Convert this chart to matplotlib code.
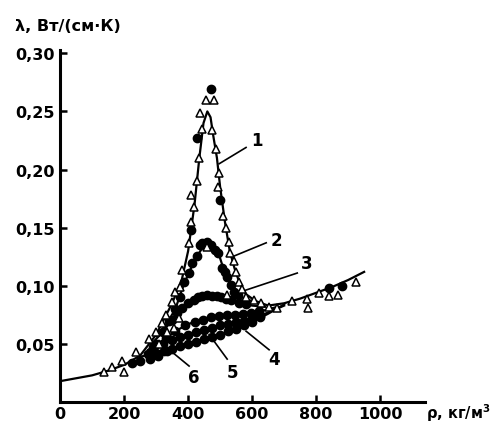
import matplotlib.pyplot as plt

# кривая 1 (линия)
c1_rho = [0, 100, 150, 200, 250, 300, 350, 380, 400, 420, 435, 448, 460, 470, 478,
          490, 500, 515, 530, 545, 560, 580, 610, 650, 700, 750, 800, 850, 900, 950]
c1_lam = [0.018, 0.023, 0.027, 0.032, 0.040, 0.058, 0.085, 0.105, 0.130, 0.170, 0.210, 0.240, 0.250, 0.245, 0.230,
          0.210, 0.185, 0.155, 0.130, 0.115, 0.103, 0.093, 0.087, 0.083, 0.085, 0.089, 0.094, 0.099, 0.105, 0.112]

c2_rho = [300, 330, 360, 385, 405, 425, 445, 470, 495, 510, 525, 545, 575, 610]
c2_lam = [0.057, 0.066, 0.080, 0.100, 0.113, 0.124, 0.133, 0.135, 0.128, 0.115, 0.106, 0.095, 0.089, 0.086]

c3_rho = [285, 320, 350, 366, 381, 419, 444, 475, 503, 534, 559, 600, 640]
c3_lam = [0.050, 0.060, 0.071, 0.077, 0.081, 0.088, 0.091, 0.091, 0.090, 0.088, 0.085, 0.083, 0.082]

c4_rho = [275, 320, 360, 400, 440, 480, 520, 560, 600, 640, 680]
c4_lam = [0.045, 0.053, 0.061, 0.067, 0.071, 0.074, 0.075, 0.076, 0.077, 0.079, 0.082]

c5_rho = [265, 310, 350, 400, 450, 500, 550, 600, 650, 700]
c5_lam = [0.042, 0.048, 0.053, 0.058, 0.062, 0.066, 0.069, 0.072, 0.077, 0.083]

c6_rho = [250, 300, 350, 400, 450, 500, 550, 600, 650, 700]
c6_lam = [0.039, 0.042, 0.046, 0.050, 0.054, 0.058, 0.063, 0.069, 0.076, 0.084]

# точки: треугольники
tri_rho = [138, 163, 194, 200, 237, 278, 300, 319, 331, 350, 359, 375, 381, 403, 409, 419, 409,
           428, 434, 444, 438, 456, 481,
           475, 487, 497, 494, 509, 519, 528, 531, 544, 550, 559, 569, 581, 606, 628, 653,
           678, 725, 772, 775, 809, 841, 869, 925,
           310, 335, 355, 370, 460, 520]
tri_lam = [0.026, 0.030, 0.035, 0.026, 0.043, 0.054, 0.060, 0.068, 0.075, 0.086, 0.095, 0.099, 0.114, 0.137, 0.155, 0.168, 0.178,
           0.190, 0.210, 0.235, 0.249, 0.260, 0.260,
           0.234, 0.218, 0.197, 0.185, 0.160, 0.150, 0.138, 0.128, 0.121, 0.112, 0.103, 0.097, 0.090, 0.088, 0.085, 0.082,
           0.081, 0.087, 0.089, 0.081, 0.094, 0.091, 0.092, 0.103,
           0.050, 0.060, 0.064, 0.072, 0.133, 0.092]

# точки: кружки
dot_rho = [472, 428, 500, 409, 841, 881,
           225, 250, 280, 305, 335,
           340, 360, 375, 388, 403, 413, 428, 437, 444, 458, 472, 484, 494, 506, 514, 522, 534, 544, 556,
           320, 350, 366, 381, 400, 419, 432, 444, 460, 475, 490, 503, 518, 534, 559, 580,
           300, 330, 360, 390, 420, 445, 470, 495, 520, 545, 570, 595, 620,
           290, 320, 350, 375, 400, 425, 450, 475, 500, 525, 550, 575, 600, 625,
           275, 300, 325, 350, 375, 400, 425, 450, 475, 500, 525, 550, 575, 600, 625]
dot_lam = [0.269, 0.227, 0.174, 0.148, 0.098, 0.100,
           0.034, 0.035, 0.037, 0.040, 0.044,
           0.070, 0.080, 0.090, 0.103, 0.111, 0.120, 0.126, 0.135, 0.137, 0.138, 0.135, 0.131, 0.128, 0.115, 0.112, 0.108, 0.101, 0.095, 0.092,
           0.060, 0.071, 0.077, 0.081, 0.085, 0.088, 0.090, 0.091, 0.092, 0.091, 0.091, 0.090, 0.089, 0.088, 0.085, 0.084,
           0.050, 0.055, 0.061, 0.066, 0.069, 0.071, 0.073, 0.074, 0.075, 0.075, 0.076, 0.077, 0.078,
           0.047, 0.050, 0.053, 0.056, 0.058, 0.060, 0.062, 0.064, 0.066, 0.067, 0.069, 0.070, 0.072, 0.074,
           0.041, 0.042, 0.044, 0.046, 0.048, 0.050, 0.052, 0.054, 0.056, 0.058, 0.061, 0.063, 0.066, 0.069, 0.073]

# подписи кривых: текст и выноски
lab_text = ["1", "2", "3", "4", "5", "6"]
lab_pos = [(616, 0.225), (675, 0.139), (772, 0.120), (669, 0.037), (538, 0.026), (419, 0.022)]
lead_from = [(581, 0.219), (644, 0.137), (741, 0.111), (653, 0.045), (522, 0.037), (403, 0.031)]
lead_to = [(497, 0.205), (538, 0.125), (566, 0.095), (581, 0.061), (466, 0.058), (350, 0.043)]

xticks = [0, 200, 400, 600, 800, 1000]
yticks = [0.05, 0.10, 0.15, 0.20, 0.25, 0.30]

plt.rcParams['font.family'] = 'DejaVu Sans'
plt.rcParams['font.weight'] = 'bold'

fig = plt.figure(figsize=(4.97, 4.27), dpi=100)
ax = fig.add_axes([0.121, 0.056, 0.734, 0.825])

for r, l in [(c1_rho, c1_lam), (c2_rho, c2_lam), (c3_rho, c3_lam),
             (c4_rho, c4_lam), (c5_rho, c5_lam), (c6_rho, c6_lam)]:
    ax.plot(r, l, color='black', linewidth=1.6, zorder=2)

ax.plot(dot_rho, dot_lam, 'o', color='black', markersize=6, zorder=3)
ax.plot(tri_rho, tri_lam, '^', markerfacecolor='white', markeredgecolor='black',
        markeredgewidth=1.1, markersize=6, zorder=4)

for t, p, a, b in zip(lab_text, lab_pos, lead_from, lead_to):
    ax.plot([a[0], b[0]], [a[1], b[1]], color='black', linewidth=1.2, zorder=2)
    ax.text(p[0], p[1], t, fontsize=12, fontweight='bold', ha='center', va='center')

ax.set_xlim(0, 1140)
ax.set_ylim(0, 0.303)
ax.spines['top'].set_visible(False)
ax.spines['right'].set_visible(False)
ax.spines['left'].set_linewidth(2.2)
ax.spines['bottom'].set_linewidth(2.2)

ax.set_xticks(xticks)
ax.set_xticklabels([str(v) for v in xticks])
ax.set_yticks(yticks)
ax.set_yticklabels([f"{v:.2f}".replace('.', ',') for v in yticks])
ax.tick_params(direction='in', length=5, width=1.8, labelsize=11.5, pad=3)
ax.tick_params(axis='y', pad=4)
for lbl in ax.get_xticklabels() + ax.get_yticklabels():
    lbl.set_fontweight('bold')

fig.text(0.03, 0.937, "λ, Вт/(см·К)", fontsize=11.5, fontweight='bold', va='center', ha='left')
fig.text(0.858, 0.033, "ρ, кг/м$^\\mathbf{3}$", fontsize=10.5, fontweight='bold', va='center', ha='left')

fig.savefig("out.png", dpi=100)
